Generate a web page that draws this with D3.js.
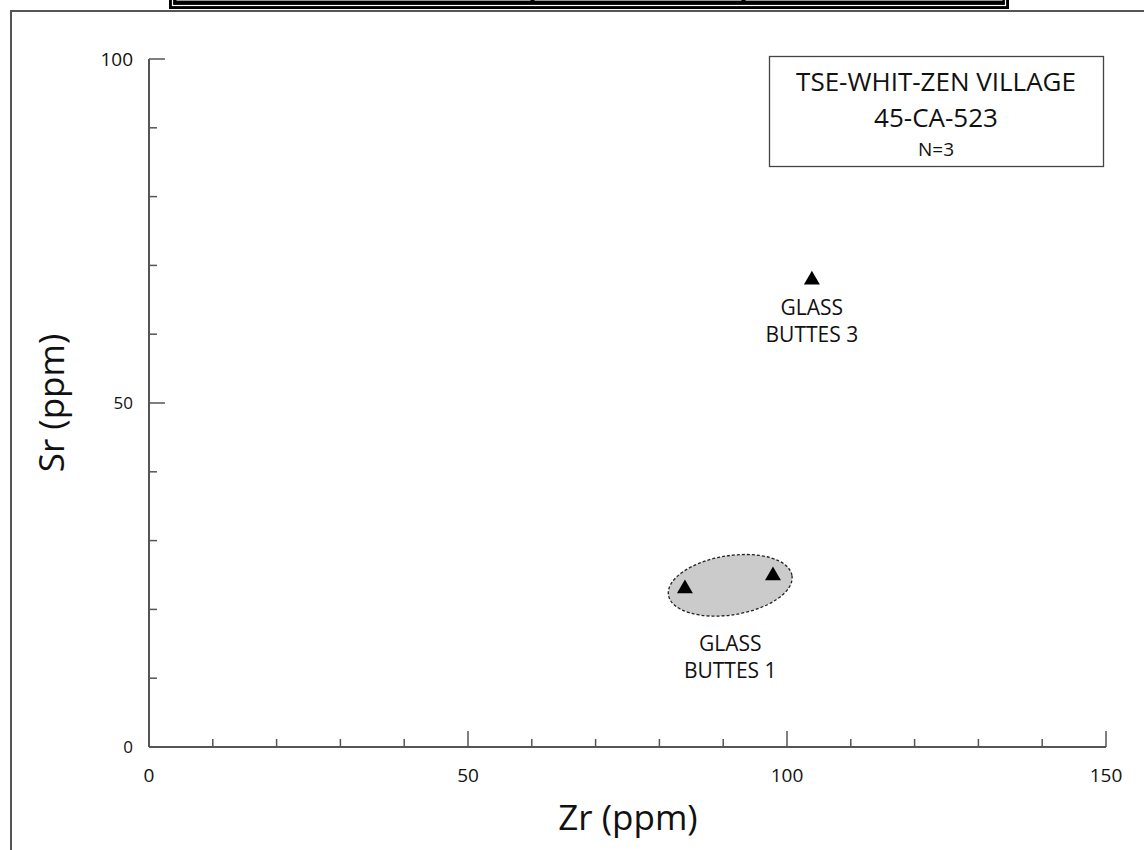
<!doctype html>
<html>
<head>
    <meta charset="utf-8">
    <script src="https://d3js.org/d3.v7.min.js"></script>
</head>
<style>
    body { margin: 0; background: #fff; }
    svg text { font-family: "Open Sans", "Noto Sans", sans-serif; fill: #111; }
</style>
<body>
<script>
    // source samples (Zr, Sr in ppm)
    var zr = [84, 97.8, 103.9];
    var sr = [23, 24.9, 67.9];

    // source group labels
    var groupNames = [["GLASS", "BUTTES 1"], ["GLASS", "BUTTES 3"]];
    var groupZr = [91.1, 103.9];
    var groupSr = [13.9, 62.8];

    // ellipse around glass buttes 1 (data units)
    var ellipseCenter = [91.1, 23.5];
    var ellipseRadius = [9.8, 4.3];

    var xTicks = [0, 50, 100, 150];
    var yTicks = [0, 50, 100];
    var minorStep = 10;

    var legendLines = ["TSE-WHIT-ZEN VILLAGE", "45-CA-523", "N=3"];

    var width = 1144, height = 850;
    var svg = d3.select("body").append("svg")
        .attr("width", width)
        .attr("height", height);

    // page frame and header strip (cut off at the top)
    svg.append("rect")
        .attr("x", 11).attr("y", 11)
        .attr("width", width + 20).attr("height", height + 20)
        .attr("fill", "none").attr("stroke", "#555").attr("stroke-width", 2);

    var strip = svg.append("g");
    strip.append("rect").attr("x", 169).attr("y", -20).attr("width", 840).attr("height", 29).attr("fill", "#000");
    strip.append("rect").attr("x", 172.5).attr("y", -20).attr("width", 833).attr("height", 25.5)
        .attr("fill", "none").attr("stroke", "#fff").attr("stroke-width", 1.2);
    [[176, 531], [534, 742], [745, 1003]].forEach(function(c) {
        strip.append("rect").attr("x", c[0]).attr("y", -20).attr("width", c[1] - c[0]).attr("height", 21.5)
            .attr("fill", "#999").attr("stroke", "#000").attr("stroke-width", 1);
    });

    var x = d3.scaleLinear().domain([0, 150]).range([149, 1106]);
    var y = d3.scaleLinear().domain([0, 100]).range([747, 59]);

    var axisColor = "#555";

    // x axis, ticks pointing up into the plot
    var xAxis = svg.append("g").attr("transform", "translate(0," + y(0) + ")");
    xAxis.append("line").attr("x1", x(0)).attr("x2", x(150)).attr("stroke", axisColor).attr("stroke-width", 2);
    xAxis.selectAll(".minor")
        .data(d3.range(0, 151, minorStep).filter(function(d) { return xTicks.indexOf(d) < 0; }))
        .enter().append("line")
        .attr("x1", x).attr("x2", x).attr("y1", 0).attr("y2", -8)
        .attr("stroke", axisColor).attr("stroke-width", 1.5);
    xAxis.selectAll(".major")
        .data(xTicks.filter(function(d) { return d > 0; }))
        .enter().append("line")
        .attr("x1", x).attr("x2", x).attr("y1", 0).attr("y2", -16)
        .attr("stroke", axisColor).attr("stroke-width", 1.5);
    xAxis.selectAll("text")
        .data(xTicks)
        .enter().append("text")
        .attr("x", x).attr("y", 35)
        .attr("text-anchor", "middle")
        .style("font-size", "19px")
        .text(function(d) { return d; });

    // y axis, ticks pointing right
    var yAxis = svg.append("g").attr("transform", "translate(" + x(0) + ",0)");
    yAxis.append("line").attr("y1", y(0)).attr("y2", y(100)).attr("stroke", axisColor).attr("stroke-width", 2);
    yAxis.selectAll(".minor")
        .data(d3.range(0, 101, minorStep).filter(function(d) { return yTicks.indexOf(d) < 0; }))
        .enter().append("line")
        .attr("y1", y).attr("y2", y).attr("x1", 0).attr("x2", 8)
        .attr("stroke", axisColor).attr("stroke-width", 1.5);
    yAxis.selectAll(".major")
        .data(yTicks.filter(function(d) { return d > 0; }))
        .enter().append("line")
        .attr("y1", y).attr("y2", y).attr("x1", 0).attr("x2", 16)
        .attr("stroke", axisColor).attr("stroke-width", 1.5);
    yAxis.selectAll("text")
        .data(yTicks)
        .enter().append("text")
        .attr("x", -16).attr("y", y)
        .attr("dy", ".35em")
        .attr("text-anchor", "end")
        .style("font-size", function(d) { return d === 100 ? "19px" : "17px"; })
        .text(function(d) { return d; });

    // axis titles
    svg.append("text")
        .attr("x", 628).attr("y", 830)
        .attr("text-anchor", "middle")
        .style("font-size", "35px")
        .text("Zr (ppm)");
    svg.append("text")
        .attr("transform", "translate(64," + y(50) + ") rotate(-90)")
        .attr("text-anchor", "middle")
        .style("font-size", "35px")
        .text("Sr (ppm)");

    // ellipse for glass buttes 1
    var ex = x(ellipseCenter[0]), ey = y(ellipseCenter[1]);
    svg.append("ellipse")
        .attr("cx", ex).attr("cy", ey)
        .attr("rx", x(ellipseRadius[0]) - x(0))
        .attr("ry", y(0) - y(ellipseRadius[1]))
        .attr("transform", "rotate(-9," + ex + "," + ey + ")")
        .attr("fill", "#cbcbcb")
        .attr("stroke", "#222")
        .attr("stroke-width", 1.3)
        .attr("stroke-dasharray", "3,2");

    // samples
    var tri = d3.symbol().type(d3.symbolTriangle).size(110);
    svg.selectAll(".pt")
        .data(zr)
        .enter().append("path")
        .attr("d", tri)
        .attr("transform", function(d, i) { return "translate(" + x(d) + "," + y(sr[i]) + ")"; })
        .attr("fill", "#000");

    // group labels, one text per line
    groupNames.forEach(function(lines, i) {
        lines.forEach(function(s, j) {
            svg.append("text")
                .attr("x", x(groupZr[i]))
                .attr("y", y(groupSr[i]) + j * 27)
                .attr("text-anchor", "middle")
                .style("font-size", "21px")
                .text(s);
        });
    });

    // site legend box
    var lg = svg.append("g");
    lg.append("rect")
        .attr("x", 769.5).attr("y", 56.5).attr("width", 334).attr("height", 110)
        .attr("fill", "#fff").attr("stroke", "#444").attr("stroke-width", 1.3);
    var lgSizes = [26, 26, 19], lgY = [91, 127, 156];
    legendLines.forEach(function(s, i) {
        lg.append("text")
            .attr("x", 936).attr("y", lgY[i])
            .attr("text-anchor", "middle")
            .style("font-size", lgSizes[i] + "px")
            .text(s);
    });
</script>
</body>
</html>
